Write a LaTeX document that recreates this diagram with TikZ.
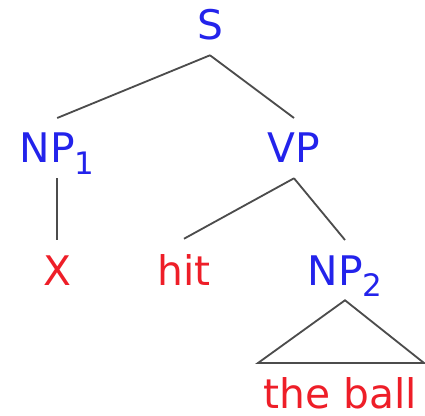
\documentclass[tikz,border=0pt]{standalone}
\usepackage{fontspec}
\setmainfont{DejaVu Sans}
\usepackage{xcolor}
\usetikzlibrary{positioning}
\definecolor{ntblue}{RGB}{35,35,235}
\definecolor{lexred}{RGB}{238,30,40}
\newcommand{\idx}[1]{\raisebox{-8pt}{\fontsize{22}{22}\selectfont #1}}

\begin{document}
\begin{tikzpicture}[
  font=\fontsize{29}{34}\selectfont,
  cat/.style={text=ntblue, anchor=base, inner sep=0.375cm, text depth=0pt},
  lex/.style={text=lexred, anchor=base, inner sep=0.375cm, text depth=0pt},
  edge/.style={draw=black!70, line width=1.3pt},
]
  \useasboundingbox (0,0) rectangle (10.625,-10.4);
  \node[cat] (s) at (5.25,-1.0) {S};
  \node[cat] (np1) at (1.43,-4.075) {NP\idx{1}};
  \node[cat] (vp) at (7.35,-4.075) {VP};
  \node[lex] (x) at (1.43,-7.125) {X};
  \node[lex] (hit) at (4.6,-7.125) {hit};
  \node[cat] (np2) at (8.625,-7.125) {NP\idx{2}};
  \coordinate (bl) at (6.45,-9.075);
  \coordinate (br) at (10.6,-9.075);
  \node[lex, inner sep=1pt] (ball) at (8.5,-10.2) {the ball};
  \draw[edge] (s.south) -- (np1.north); \draw[edge] (s.south) -- (vp.north);
  \draw[edge] (np1.south) -- (x.north);
  \draw[edge] (vp.south) -- (hit.north); \draw[edge] (vp.south) -- (np2.north);
  \draw[edge] (np2.south) -- (bl) -- (br) -- cycle;
\end{tikzpicture}
\end{document}
